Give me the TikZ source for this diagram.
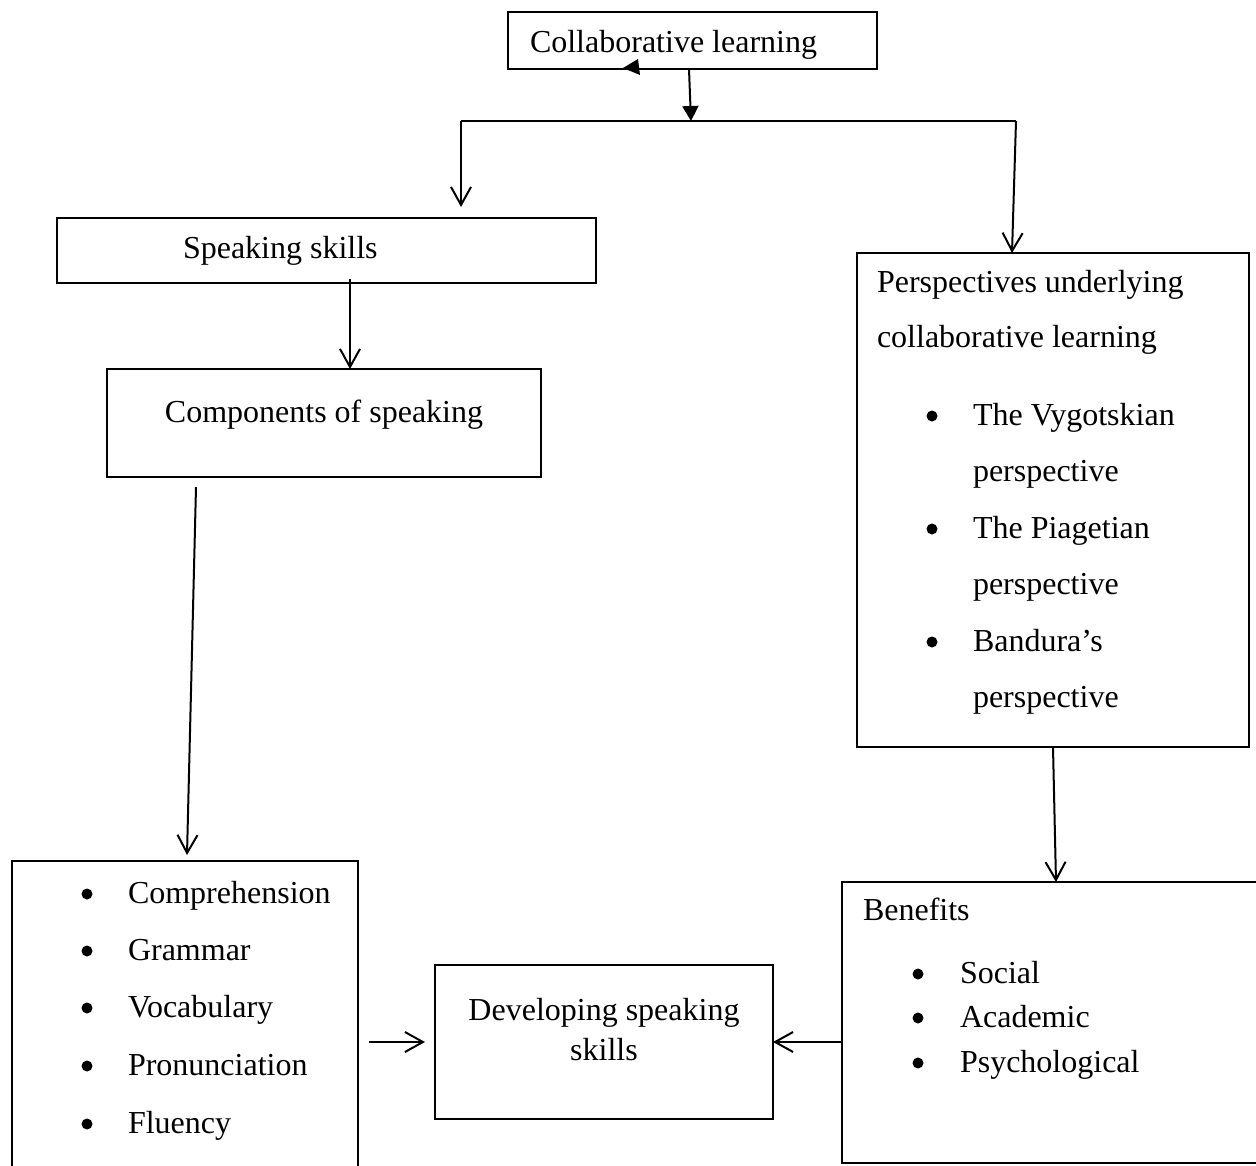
\documentclass[tikz,border=0pt]{standalone}
\usepackage{fontspec}
\setmainfont{Liberation Serif}
\usetikzlibrary{arrows.meta}
\begin{document}
\begin{tikzpicture}[x=1pt,y=-1pt,
  every node/.style={inner sep=0pt, outer sep=0pt},
  txt/.style={anchor=base west, font=\fontsize{32}{38}\selectfont},
  ctxt/.style={anchor=base, font=\fontsize{32}{38}\selectfont},
  thickbox/.style={draw, line width=2.6pt},
  thinbox/.style={draw, line width=1.4pt},
  conn/.style={line width=2pt},
  openarr/.style={conn, -{Straight Barb[length=18pt,width=20pt,line width=2pt]}},
  filledarr/.style={conn, -{Triangle[length=15pt,width=16pt]}},
  bul/.style={circle, fill, minimum size=11pt}
]
\useasboundingbox (0,0) rectangle (1256,1165);

% boxes
\node[thickbox, minimum width=369pt, minimum height=57pt] (cl) at (692.5,40.5) {};
\node[thickbox, minimum width=539pt, minimum height=65pt] (ss) at (326.5,250.5) {};
\node[thinbox, minimum width=434pt, minimum height=108pt] (co) at (324,423) {};
\node[thinbox, minimum width=392pt, minimum height=494pt] (pe) at (1053,500) {};
\node[thickbox, minimum width=346pt, minimum height=319pt] (bl) at (185,1020.5) {};
\node[thinbox, minimum width=338pt, minimum height=154pt] (dev) at (604,1042) {};
\node[thinbox, minimum width=433pt, minimum height=281pt] (be) at (1058.5,1022.5) {};

% texts
\node[txt] (t-cl) at (530,52) {Collaborative learning};
\node[txt] (t-ss) at (183,258) {Speaking skills};
\node[ctxt] (t-co) at (324,422) {Components of speaking};
\node[txt] (t-pe1) at (877,292) {Perspectives underlying};
\node[txt] (t-pe2) at (877,347) {collaborative learning};
\foreach \y/\t [count=\i] in {425/The Vygotskian, 481/perspective, 538/The Piagetian, 594/perspective, 651/Bandura’s, 707/perspective}
  \node[txt] (t-p\i) at (973,\y) {\t};
\foreach \y [count=\i] in {425,538,651}
  \node[bul] (b-p\i) at (932,\y-9) {};
\foreach \y/\t [count=\i] in {903/Comprehension, 960/Grammar, 1017/Vocabulary, 1075/Pronunciation, 1133/Fluency}{
  \node[txt] (t-c\i) at (128,\y) {\t};
  \node[bul] (b-c\i) at (87,\y-9) {};
}
\node[ctxt] (t-dev1) at (604,1020) {Developing speaking};
\node[ctxt] (t-dev2) at (604,1060) {skills};
\node[txt] (t-be) at (863,920) {Benefits};
\foreach \y/\t [count=\i] in {983/Social, 1027/Academic, 1072/Psychological}{
  \node[txt] (t-b\i) at (960,\y) {\t};
  \node[bul] (b-b\i) at (918,\y-9) {};
}

% connectors
\coordinate (split) at (691,121);
\coordinate (hl) at (461,121);
\coordinate (hr) at (1016,121);
\coordinate (sstip) at (461,207);
\draw[filledarr] ([xshift=-3.5pt]cl.south) -- (split);
\draw[line width=1.4pt] (hl) -- (hr);
\draw[openarr] (hl) -- (sstip);
\draw[openarr] (hr) -- ([xshift=-41pt]pe.north);
\draw[openarr] ([xshift=23.5pt,yshift=4pt]ss.south) -- ([xshift=26pt]co.north);
\draw[openarr] ([xshift=-128pt,yshift=-10pt]co.south) -- ([xshift=2pt,yshift=6pt]bl.north);
\draw[openarr] ([xshift=11pt]bl.east |- dev.west) -- ([xshift=-10pt]dev.west);
\draw[openarr] (be.west |- dev.east) -- (dev.east);
\draw[openarr] (pe.south) -- ([xshift=-2.5pt]be.north);

% stray arrowhead
\fill (623,68) -- (638,59) -- (640,75) -- cycle;
\end{tikzpicture}
\end{document}
